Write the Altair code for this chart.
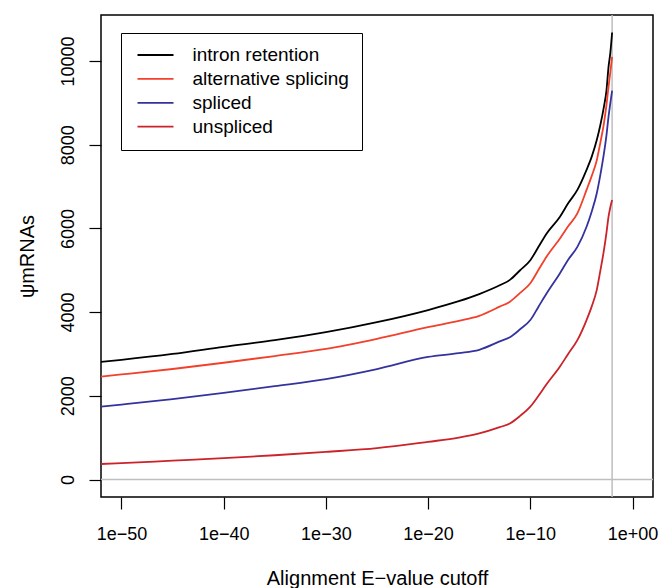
import altair as alt
import pandas as pd

# log10 of the alignment E-value cutoff
log_cutoff = [-52, -50, -45, -40, -35, -30, -25, -20, -17, -15, -13, -12, -11, -10,
              -9.2, -8.4, -7.1, -6.3, -5.4, -4.5, -4.0, -3.5, -3.15, -2.8, -2.55, -2.35, -2.18, -2.0]

intron_retention = [2810, 2860, 3000, 3170, 3330, 3520, 3760, 4050, 4260, 4430, 4640, 4770, 5000, 5240,
                    5560, 5880, 6280, 6600, 6920, 7400, 7710, 8110, 8470, 8910, 9300, 9860, 10180, 10680]
alternative_splicing = [2460, 2510, 2640, 2790, 2950, 3120, 3360, 3640, 3790, 3910, 4130, 4250, 4460, 4690,
                        5010, 5330, 5760, 6050, 6360, 6920, 7250, 7630, 8050, 8510, 8950, 9390, 9720, 10100]
spliced = [1740, 1790, 1920, 2070, 2230, 2400, 2640, 2930, 3020, 3100, 3300, 3400, 3590, 3810,
           4130, 4450, 4930, 5250, 5560, 6040, 6400, 6840, 7280, 7790, 8230, 8670, 8980, 9290]
unspliced = [370, 390, 450, 510, 580, 660, 750, 900, 1000, 1100, 1250, 1340, 1520, 1740,
             2000, 2280, 2700, 3000, 3330, 3810, 4130, 4530, 4990, 5480, 5900, 6280, 6500, 6680]

series_names = ["intron retention", "alternative splicing", "spliced", "unspliced"]
series_colors = ["#000000", "#F2402B", "#34339E", "#CC2229"]
series_values = [intron_retention, alternative_splicing, spliced, unspliced]

x_ticks = [-50, -40, -30, -20, -10, 0]
y_ticks = [0, 2000, 4000, 6000, 8000, 10000]
cutoff_line = [-2.0]
zero_line = [0]

rows = []
for name, values in zip(series_names, series_values):
    for i, (x, v) in enumerate(zip(log_cutoff, values)):
        rows.append({"series": name, "logE": x, "count": v, "idx": i})
df = pd.DataFrame(rows)

FONT = "Liberation Sans"
x_scale = alt.Scale(domain=[-52, 2], nice=False, zero=False)
y_scale = alt.Scale(domain=[-418, 11099], nice=False, zero=False)

x_axis = alt.Axis(
    values=x_ticks, title="Alignment E\u2212value cutoff",
    labelExpr="datum.value == 0 ? '1e+00' : '1e\u2212' + (-datum.value)",
    tickSize=12, tickColor="black", tickWidth=1.2, domain=False, grid=False,
    labelFontSize=18, labelFont=FONT, labelColor="black", labelPadding=16,
    titleFontSize=20, titleFont=FONT, titleColor="black", titleFontWeight="normal",
    titleX=276, titleY=87, titleBaseline="alphabetic", titleAlign="center",
)
y_axis = alt.Axis(
    values=y_ticks, title="\u03c8mRNAs", format="d",
    tickSize=12, tickColor="black", tickWidth=1.2, domain=False, grid=False,
    labelFontSize=18, labelFont=FONT, labelColor="black", labelPadding=16,
    labelAngle=270, labelAlign="center", labelBaseline="alphabetic",
    titleFontSize=20, titleFont=FONT, titleColor="black", titleFontWeight="normal",
    titleAngle=270, titleX=-68, titleY=241, titleBaseline="alphabetic", titleAlign="center",
)

lines = alt.Chart(df).mark_line(strokeWidth=1.8, clip=True, interpolate="monotone").encode(
    x=alt.X("logE:Q", scale=x_scale, axis=x_axis),
    y=alt.Y("count:Q", scale=y_scale, axis=y_axis),
    color=alt.Color(
        "series:N",
        scale=alt.Scale(domain=series_names, range=series_colors),
        sort=series_names,
        legend=alt.Legend(
            orient="none", legendX=20, legendY=18, title=None,
            symbolType="stroke", symbolSize=1296, symbolStrokeWidth=1.8, symbolOffset=3,
            labelFontSize=19, labelFont=FONT, labelColor="black", labelOffset=18,
            labelLimit=400, padding=12.5, rowPadding=3.9, clipHeight=19,
            strokeColor="black", fillColor="white", direction="vertical",
        ),
    ),
    order="idx:Q",
)

vline = alt.Chart(pd.DataFrame({"logE": cutoff_line})).mark_rule(
    color="#BEBEBE", strokeWidth=1.5
).encode(x=alt.X("logE:Q", scale=x_scale))

hline = alt.Chart(pd.DataFrame({"count": zero_line})).mark_rule(
    color="#BEBEBE", strokeWidth=1.5
).encode(y=alt.Y("count:Q", scale=y_scale))

chart = (
    alt.layer(hline, vline, lines)
    .properties(
        width=552, height=482,
        autosize=alt.AutoSizeParams(type="none"),
        padding={"left": 101, "top": 15, "right": 16, "bottom": 91},
        background="white",
    )
    .configure_view(stroke="black", strokeWidth=1.5)
)

chart.save("out.html", embed_options={"renderer": "svg", "actions": False})
